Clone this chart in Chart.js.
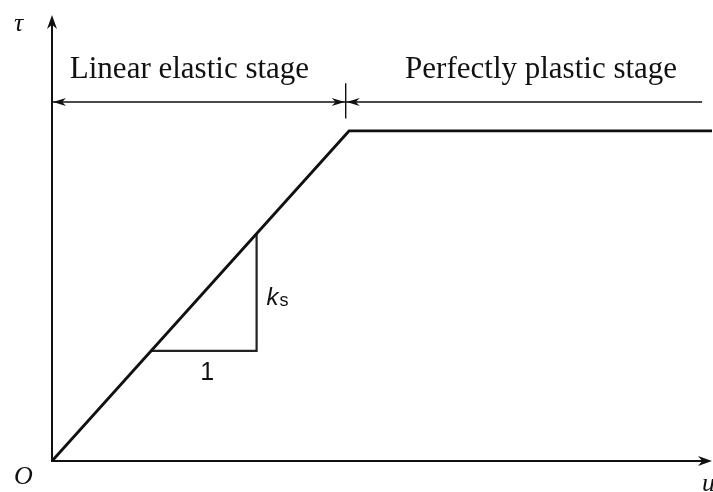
<!DOCTYPE html>
<html>
<head>
<meta charset="utf-8">
<script src="https://cdn.jsdelivr.net/npm/chart.js@4/dist/chart.umd.min.js"></script>
<style>
  html, body { margin: 0; padding: 0; background: #fff; }
  #wrap { width: 713px; height: 492px; }
</style>
</head>
<body>
<div id="wrap"><canvas id="c" width="713" height="492"></canvas></div>
<script>
// Bilinear shear stress - displacement law (elastic-perfectly plastic)
const displacement = [0, 4.5, 10.0];
const shearStress  = [0, 7.4, 7.4];

// slope triangle (run = 1, rise = k_s)
const triU   = [1.5, 3.1, 3.1];
const triTau = [2.47, 2.47, 5.1];

// stage dimension lines
const stageBoundaryU = 4.45;
const stageLevelTau  = 8.05;
const stageEndU      = 9.85;
const stageLabels    = ['Linear elastic stage', 'Perfectly plastic stage'];

const axisMaxU = 10, axisMaxTau = 10;

function pts(xs, ys) { return xs.map((x, i) => ({ x, y: ys[i] })); }

function arrowHead(ctx, x, y, dir, len, half) {
  // dir: 'left' | 'right' | 'up'
  ctx.beginPath();
  if (dir === 'left')  { ctx.moveTo(x, y); ctx.lineTo(x + len, y - half); ctx.lineTo(x + len * 0.7, y); ctx.lineTo(x + len, y + half); }
  if (dir === 'right') { ctx.moveTo(x, y); ctx.lineTo(x - len, y - half); ctx.lineTo(x - len * 0.7, y); ctx.lineTo(x - len, y + half); }
  if (dir === 'up')    { ctx.moveTo(x, y); ctx.lineTo(x - half, y + len); ctx.lineTo(x, y + len * 0.7); ctx.lineTo(x + half, y + len); }
  ctx.closePath();
  ctx.fill();
}

const schematic = {
  id: 'schematic',
  afterDatasetsDraw(chart) {
    const ctx = chart.ctx;
    const sx = chart.scales.x, sy = chart.scales.y;
    const X = v => sx.getPixelForValue(v), Y = v => sy.getPixelForValue(v);
    ctx.save();
    ctx.strokeStyle = '#111';
    ctx.fillStyle = '#111';

    // axes with arrows
    ctx.lineWidth = 2;
    ctx.beginPath();
    ctx.moveTo(X(0), Y(axisMaxTau) + 4);
    ctx.lineTo(X(0), Y(0));
    ctx.lineTo(X(axisMaxU) - 4, Y(0));
    ctx.stroke();
    arrowHead(ctx, X(0), Y(axisMaxTau), 'up', 14, 5);
    arrowHead(ctx, X(axisMaxU), Y(0), 'right', 14, 5);

    // stage dimension lines
    const yl = Y(stageLevelTau), xb = X(stageBoundaryU);
    ctx.lineWidth = 1.4;
    ctx.beginPath();
    ctx.moveTo(X(0), yl); ctx.lineTo(X(stageEndU), yl);
    ctx.moveTo(xb, Y(stageLevelTau + 0.42)); ctx.lineTo(xb, Y(stageLevelTau - 0.37));
    ctx.stroke();
    arrowHead(ctx, X(0) + 1, yl, 'left', 13, 4);
    arrowHead(ctx, xb - 1, yl, 'right', 13, 4);
    arrowHead(ctx, xb + 1, yl, 'left', 13, 4);

    // texts
    ctx.textBaseline = 'alphabetic';
    ctx.font = '31px "Liberation Serif", "DejaVu Serif", serif';
    ctx.textAlign = 'left';
    ctx.fillText(stageLabels[0], X(0.27), Y(8.58));
    ctx.fillText(stageLabels[1], X(5.35), Y(8.58));

    ctx.font = 'italic 26px "Liberation Serif", serif';
    ctx.fillText('\u03C4', 14, 31);
    ctx.fillText('O', 14, 484);
    ctx.fillText('u', 702, 491);

    ctx.font = 'italic 24px "Liberation Sans", sans-serif';
    ctx.fillText('k', X(3.25), Y(3.5));
    ctx.font = '18px "Liberation Sans", sans-serif';
    ctx.fillText('s', X(3.25) + 13, Y(3.5) + 1);
    ctx.font = '25px "Liberation Sans", sans-serif';
    ctx.textAlign = 'center';
    ctx.fillText('1', X(2.35), Y(1.82));
    ctx.restore();
  }
};

new Chart(document.getElementById('c'), {
  type: 'scatter',
  data: {
    datasets: [
      {
        data: pts(displacement, shearStress),
        showLine: true, borderColor: '#111', borderWidth: 2.8,
        pointRadius: 0, fill: false, clip: false, tension: 0
      },
      {
        data: pts(triU, triTau),
        showLine: true, borderColor: '#222', borderWidth: 2.2,
        pointRadius: 0, fill: false, tension: 0
      }
    ]
  },
  options: {
    responsive: false,
    animation: false,
    layout: { padding: { left: 52, right: 1, top: 15, bottom: 31 } },
    plugins: { legend: { display: false }, tooltip: { enabled: false } },
    scales: {
      x: { type: 'linear', min: 0, max: axisMaxU, display: false },
      y: { type: 'linear', min: 0, max: axisMaxTau, display: false }
    }
  },
  plugins: [schematic]
});
</script>
</body>
</html>
